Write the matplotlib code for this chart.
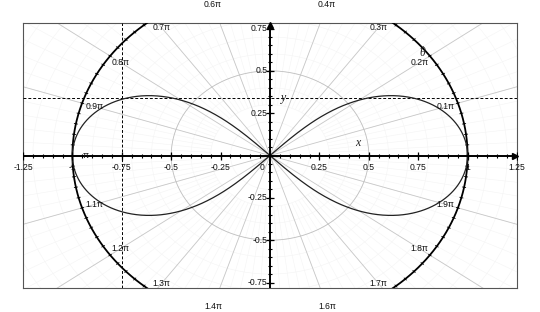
import matplotlib
matplotlib.use("Agg")
import matplotlib.pyplot as plt
import numpy as np
from matplotlib.collections import LineCollection

# lemniscate r^2 = a^2 cos(2 theta)
lem_a = 1.0
# marked point on the curve (dashed guides)
point_x = -0.75
point_y = 0.337

x_major = [-1.25, -1.0, -0.75, -0.5, -0.25, 0.25, 0.5, 0.75, 1.0, 1.25]
x_labels = ["-1.25", "-1", "-0.75", "-0.5", "-0.25", "0.25", "0.5", "0.75", "1", "1.25"]
y_major = [-0.75, -0.5, -0.25, 0.25, 0.5, 0.75]
y_labels = ["-0.75", "-0.5", "-0.25", "0.25", "0.5", "0.75"]
theta_steps = [1, 2, 3, 4, 6, 7, 8, 9, 10, 11, 12, 13, 14, 16, 17, 18, 19]
theta_labels = ["0.1π", "0.2π", "0.3π", "0.4π", "0.6π", "0.7π", "0.8π", "0.9π", "π",
                "1.1π", "1.2π", "1.3π", "1.4π", "1.6π", "1.7π", "1.8π", "1.9π"]

fig = plt.figure(figsize=(5.4, 3.12), dpi=100)
ax = fig.add_axes([0.0426, 0.077, 0.9148, 0.849])
ax.set_xlim(-1.25, 1.25)
ax.set_ylim(-0.782, 0.782)
ax.set_xticks([])
ax.set_yticks([])
for s in ax.spines.values():
    s.set_color("#555555")
    s.set_linewidth(0.8)

# faint polar mesh
R = 2.0
fine = np.arange(0, 2, 0.02) * np.pi
segs = [[(0.3 * np.cos(t), 0.3 * np.sin(t)), (R * np.cos(t), R * np.sin(t))] for t in fine]
ax.add_collection(LineCollection(segs, colors="#f4f4f4", linewidths=0.4, zorder=0))
tt = np.linspace(0, 2 * np.pi, 400)
for rr in np.arange(0.1, 1.6, 0.1):
    ax.plot(rr * np.cos(tt), rr * np.sin(tt), color="#f4f4f4", lw=0.4, zorder=0)

# main radial lines every 0.1 pi and circle r = 0.5
main = np.arange(0, 2, 0.1) * np.pi
segs = [[(0, 0), (R * np.cos(t), R * np.sin(t))] for t in main]
ax.add_collection(LineCollection(segs, colors="#c8c8c8", linewidths=0.6, zorder=1))
ax.plot(0.5 * np.cos(tt), 0.5 * np.sin(tt), color="#c0c0c0", lw=0.6, zorder=1)

# dashed guides
ax.axhline(point_y, color="k", ls=(0, (3, 2)), lw=0.7, zorder=3)
ax.axvline(point_x, color="k", ls=(0, (3, 2)), lw=0.7, zorder=3)

# unit circle with small ticks
ax.plot(np.cos(tt), np.sin(tt), color="k", lw=1.3, zorder=4)
small = np.arange(0, 2, 0.02) * np.pi
segs = [[(0.99 * np.cos(t), 0.99 * np.sin(t)), (1.01 * np.cos(t), 1.01 * np.sin(t))] for t in small]
ax.add_collection(LineCollection(segs, colors="k", linewidths=0.6, zorder=4))

# lemniscate
th = np.linspace(-np.pi / 4, np.pi / 4, 600)
r = lem_a * np.sqrt(np.clip(np.cos(2 * th), 0, None))
ax.plot(r * np.cos(th), r * np.sin(th), color="#222222", lw=0.9, zorder=5)
ax.plot(-r * np.cos(th), -r * np.sin(th), color="#222222", lw=0.9, zorder=5)

# coordinate axes through the origin
ax.plot([-1.25, 1.235], [0, 0], color="k", lw=1.4, zorder=6)
ax.plot([0, 0], [-0.782, 0.765], color="k", lw=1.4, zorder=6)
ax.plot([1.238], [0], marker=">", ms=4, color="k", zorder=7, clip_on=False)
ax.plot([0], [0.768], marker="^", ms=4, color="k", zorder=7, clip_on=False)

minor = np.round(np.arange(-1.25, 1.2501, 0.05), 2)
ax.plot(minor, np.zeros_like(minor), ls="", marker="|", ms=3, mew=0.8, color="k", zorder=6)
ax.plot(x_major, np.zeros(len(x_major)), ls="", marker="|", ms=5.5, mew=0.9, color="k", zorder=6)
yminor = np.round(np.arange(-0.75, 0.7501, 0.05), 2)
ax.plot(np.zeros_like(yminor), yminor, ls="", marker="_", ms=3, mew=0.8, color="k", zorder=6)
ax.plot(np.zeros(len(y_major)), y_major, ls="", marker="_", ms=5.5, mew=0.9, color="k", zorder=6)

tick_font = dict(family="Liberation Sans", size=6.2, color="#111111")
for v, lbl in zip(x_major, x_labels):
    ax.annotate(lbl, (v, 0), xytext=(0, -5.5), textcoords="offset points",
                ha="center", va="top", zorder=8, **tick_font)
ax.annotate("0", (0, 0), xytext=(-6, -5.5), textcoords="offset points",
            ha="center", va="top", zorder=8, **tick_font)
for v, lbl in zip(y_major, y_labels):
    ax.annotate(lbl, (0, v), xytext=(-2, 0), textcoords="offset points",
                ha="right", va="center", zorder=8, **tick_font)

# angle labels
for k, lbl in zip(theta_steps, theta_labels):
    a = k * 0.1 * np.pi
    ax.text(0.935 * np.cos(a), 0.935 * np.sin(a), lbl, ha="center", va="center",
            zorder=8, clip_on=False, **tick_font)

var_font = dict(family="Liberation Serif", style="italic", size=8.5, color="#222222")
ax.text(0.98 * np.cos(0.213 * np.pi), 0.98 * np.sin(0.213 * np.pi), "θ",
        ha="center", va="center", zorder=8, **var_font)
ax.text(0.445, 0.074, "x", ha="center", va="center", zorder=8, **var_font)
ax.text(0.071, 0.341, "y", ha="center", va="center", zorder=8, **var_font)

fig.savefig("out.png", dpi=100)
